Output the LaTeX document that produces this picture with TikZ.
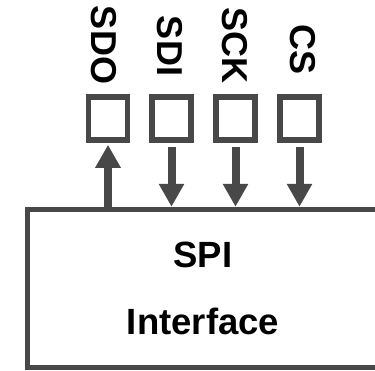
\documentclass[tikz,border=0pt]{standalone}
\usepackage{fontspec}
\setmainfont{Liberation Sans}
\usepackage{tikz}
\usetikzlibrary{arrows.meta,positioning,calc}
\definecolor{wireGray}{RGB}{72,72,72}

\begin{document}
\begin{tikzpicture}[x=1pt, y=-1pt,
    pad/.style={draw=wireGray, line width=5.5pt, fill=white, inner sep=0pt,
      minimum width=39pt, minimum height=43pt},
    pinname/.style={rotate=-90, inner sep=0pt, font=\fontsize{36}{40}\selectfont\bfseries},
    sig/.style={wireGray, line width=8pt, -{Triangle[length=23pt,width=24pt]}}]
    \useasboundingbox (0,0) rectangle (375,370);
    \clip (0,0) rectangle (375,370);

    % SPI block, right side runs off the page
    \node[draw=wireGray, line width=5.5pt, minimum width=351pt, minimum height=158pt,
      align=center, font=\fontsize{36.5}{67}\selectfont\bfseries] (spi) at (203,288.5)
      {SPI\\Interface};

    % Pads
    \node[pad] (sdo) at (108,118.5) {};
    \node[pad] (sdi) at (171.5,118.5) {};
    \node[pad] (sck) at (235.5,118.5) {};
    \node[pad] (cs) at (299.5,118.5) {};

    % Pin names
    \node[pinname] (sdoname) at (104,45) {SDO};
    \node[pinname] (sdiname) at (170,46) {SDI};
    \node[pinname] (sckname) at (235,45.5) {SCK};
    \node[pinname] (csname) at (302.5,49.5) {CS};

    % Signal directions
    \draw[sig, shorten >=2pt] (sdo.south |- spi.north) -- (sdo.south);
    \draw[sig, shorten <=4pt] (sdi.south) -- (sdi.south |- spi.north);
    \draw[sig, shorten <=4pt] (sck.south) -- (sck.south |- spi.north);
    \draw[sig, shorten <=4pt] (cs.south) -- (cs.south |- spi.north);
\end{tikzpicture}
\end{document}
